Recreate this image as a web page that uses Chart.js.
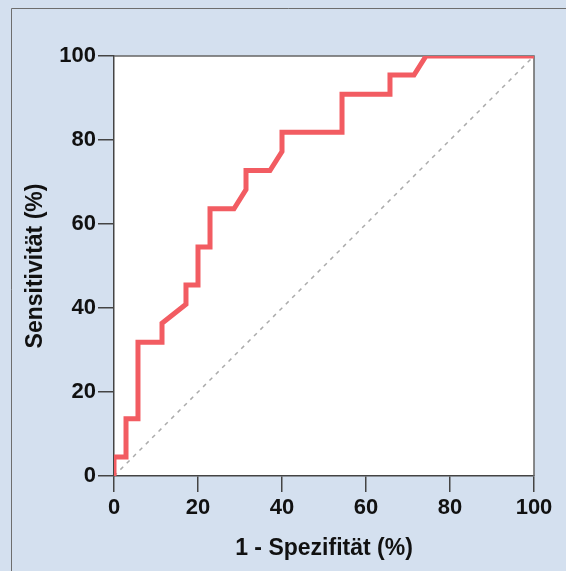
<!DOCTYPE html>
<html lang="de">
<head>
  <meta charset="UTF-8">
  <title>ROC-Kurve</title>
  <style>
    body {
      margin: 0;
      padding: 0;
      background: #d4e0ef;
    }
    .chart-container {
      width: 566px;
      height: 571px;
    }
  </style>
</head>
<body>

<div class="chart-container">
  <canvas id="rocChart"></canvas>
</div>

<script src="https://cdn.jsdelivr.net/npm/chart.js"></script>
<script>
  // ROC-Punkte (in %)
  const spec1 = [0, 0, 2.86, 2.86, 5.71, 5.71, 11.43, 11.43, 17.14, 17.14, 20, 20, 22.86, 22.86, 28.57, 31.43, 31.43, 37.14, 40, 40, 54.29, 54.29, 65.71, 65.71, 71.43, 74.29, 100];
  const sens = [0, 4.55, 4.55, 13.64, 13.64, 31.82, 31.82, 36.36, 40.91, 45.45, 45.45, 54.55, 54.55, 63.64, 63.64, 68.18, 72.73, 72.73, 77.27, 81.82, 81.82, 90.91, 90.91, 95.45, 95.45, 100, 100];
  const diagX = [0, 100];
  const diagY = [0, 100];
  const tickValues = [0, 20, 40, 60, 80, 100];

  const fontFam = '"Liberation Sans", Arial, sans-serif';

  // Hintergrund, Rahmen und weisse Plotflaeche
  const bgPlugin = {
    id: 'bg',
    beforeDraw(chart) {
      const c = chart.ctx;
      const a = chart.chartArea;
      c.save();
      c.fillStyle = '#d4e0ef';
      c.fillRect(0, 0, chart.width, chart.height);
      c.strokeStyle = '#6e6e6e';
      c.lineWidth = 1;
      c.beginPath();
      c.moveTo(11.5, chart.height);
      c.lineTo(11.5, 8.5);
      c.lineTo(chart.width, 8.5);
      c.stroke();
      c.fillStyle = '#ffffff';
      c.fillRect(a.left, a.top, a.right - a.left, a.bottom - a.top);
      c.restore();
    },
    beforeDatasetsDraw(chart) {
      const c = chart.ctx;
      const a = chart.chartArea;
      c.save();
      c.strokeStyle = '#666';
      c.lineWidth = 1.5;
      c.beginPath();
      c.moveTo(a.left, a.top);
      c.lineTo(a.right, a.top);
      c.lineTo(a.right, a.bottom);
      c.stroke();
      c.restore();
    }
  };

  const ctx = document.getElementById('rocChart').getContext('2d');
  const rocChart = new Chart(ctx, {
    type: 'scatter',
    data: {
      datasets: [{
        data: diagX.map((x, i) => ({ x: x, y: diagY[i] })),
        showLine: true,
        borderColor: '#ababab',
        borderWidth: 1.5,
        borderDash: [4, 5],
        pointRadius: 0,
        order: 2
      }, {
        data: spec1.map((x, i) => ({ x: x, y: sens[i] })),
        showLine: true,
        borderColor: '#f25c62',
        borderWidth: 5,
        borderJoinStyle: 'miter',
        pointRadius: 0,
        order: 1
      }]
    },
    options: {
      responsive: true,
      maintainAspectRatio: false,
      animation: false,
      layout: { padding: { left: 0, top: 56, right: 32, bottom: 0 } },
      plugins: {
        legend: { display: false },
        tooltip: { enabled: false }
      },
      scales: {
        x: {
          type: 'linear',
          min: 0,
          max: 100,
          afterFit: s => { s.height = 95; },
          afterBuildTicks: s => { s.ticks = tickValues.map(v => ({ value: v })); },
          ticks: { color: '#111', padding: 3, font: { family: fontFam, size: 22, weight: 'bold' } },
          grid: { drawOnChartArea: false, tickLength: 16, color: '#444', lineWidth: 1.5 },
          border: { color: '#444', width: 1.5 },
          title: {
            display: true,
            text: '1 - Spezifität (%)',
            color: '#111',
            padding: { top: 0, bottom: 9 },
            font: { family: fontFam, size: 23, weight: 'bold' }
          }
        },
        y: {
          type: 'linear',
          min: 0,
          max: 100,
          afterFit: s => { s.width = 114; },
          afterBuildTicks: s => { s.ticks = tickValues.map(v => ({ value: v })); },
          ticks: { color: '#111', padding: 2, font: { family: fontFam, size: 22, weight: 'bold' } },
          grid: { drawOnChartArea: false, tickLength: 16, color: '#444', lineWidth: 1.5 },
          border: { color: '#444', width: 1.5 },
          title: {
            display: true,
            text: 'Sensitivität (%)',
            color: '#111',
            padding: { top: 22, bottom: 0 },
            font: { family: fontFam, size: 23, weight: 'bold' }
          }
        }
      }
    },
    plugins: [bgPlugin]
  });
</script>

</body>
</html>
